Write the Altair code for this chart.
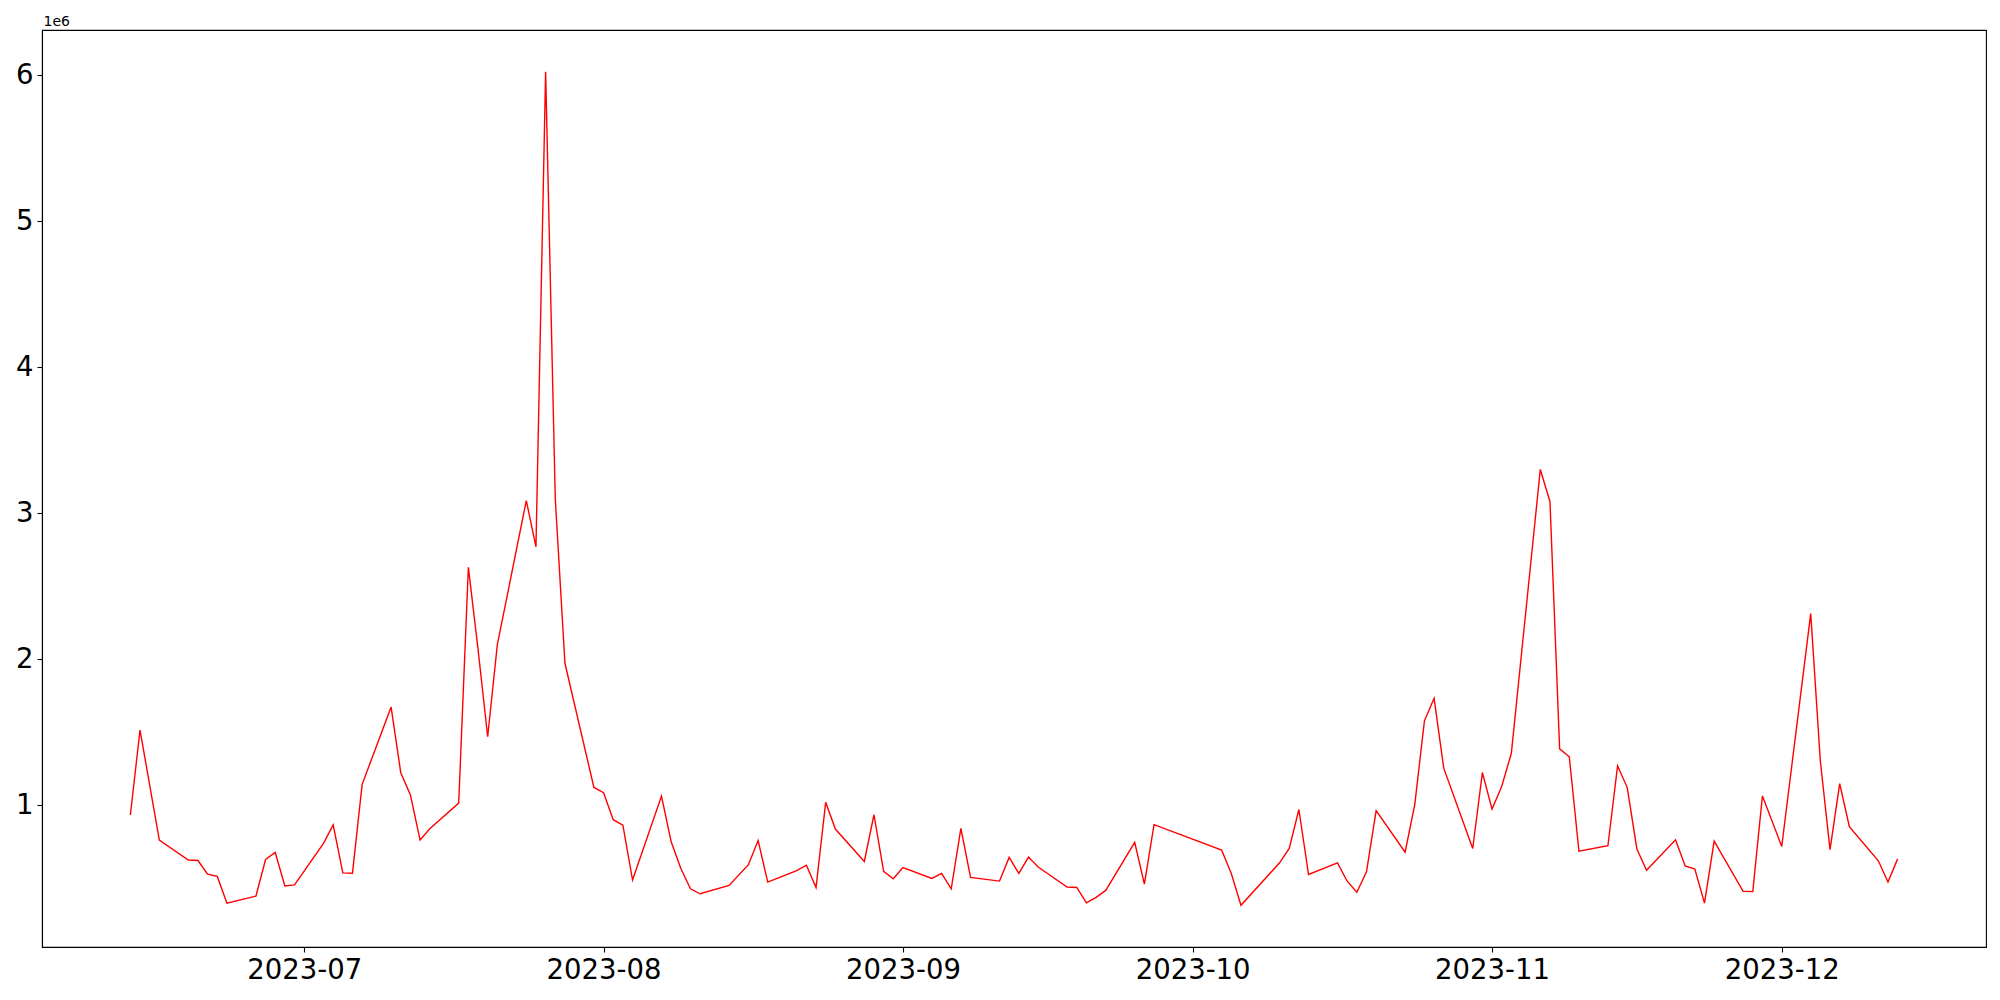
import altair as alt
import pandas as pd

DATES = [
    "2023-06-13", "2023-06-14", "2023-06-16", "2023-06-19", "2023-06-20", "2023-06-21",
    "2023-06-22", "2023-06-23", "2023-06-26", "2023-06-27", "2023-06-28", "2023-06-29",
    "2023-06-30", "2023-07-03", "2023-07-04", "2023-07-05", "2023-07-06", "2023-07-07",
    "2023-07-10", "2023-07-11", "2023-07-12", "2023-07-13", "2023-07-14", "2023-07-17",
    "2023-07-18", "2023-07-19", "2023-07-20", "2023-07-21", "2023-07-24", "2023-07-25",
    "2023-07-26", "2023-07-27", "2023-07-28", "2023-07-31", "2023-08-01", "2023-08-02",
    "2023-08-03", "2023-08-04", "2023-08-07", "2023-08-08", "2023-08-09", "2023-08-10",
    "2023-08-11", "2023-08-14", "2023-08-16", "2023-08-17", "2023-08-18", "2023-08-21",
    "2023-08-22", "2023-08-23", "2023-08-24", "2023-08-25", "2023-08-28", "2023-08-29",
    "2023-08-30", "2023-08-31", "2023-09-01", "2023-09-04", "2023-09-05", "2023-09-06",
    "2023-09-07", "2023-09-08", "2023-09-11", "2023-09-12", "2023-09-13", "2023-09-14",
    "2023-09-15", "2023-09-18", "2023-09-19", "2023-09-20", "2023-09-21", "2023-09-22",
    "2023-09-25", "2023-09-26", "2023-09-27", "2023-10-04", "2023-10-05", "2023-10-06",
    "2023-10-10", "2023-10-11", "2023-10-12", "2023-10-13", "2023-10-16", "2023-10-17",
    "2023-10-18", "2023-10-19", "2023-10-20", "2023-10-23", "2023-10-24", "2023-10-25",
    "2023-10-26", "2023-10-27", "2023-10-30", "2023-10-31", "2023-11-01", "2023-11-02",
    "2023-11-03", "2023-11-06", "2023-11-07", "2023-11-08", "2023-11-09", "2023-11-10",
    "2023-11-13", "2023-11-14", "2023-11-15", "2023-11-16", "2023-11-17", "2023-11-20",
    "2023-11-21", "2023-11-22", "2023-11-23", "2023-11-24", "2023-11-27", "2023-11-28",
    "2023-11-29", "2023-12-01", "2023-12-04", "2023-12-05", "2023-12-06", "2023-12-07",
    "2023-12-08", "2023-12-11", "2023-12-12", "2023-12-13",
]

VALUES_MILLIONS = [
    0.934, 1.516, 0.763, 0.626, 0.623, 0.530,
    0.514, 0.331, 0.379, 0.630, 0.678, 0.449,
    0.456, 0.740, 0.867, 0.538, 0.536, 1.144,
    1.673, 1.224, 1.071, 0.763, 0.840, 1.016,
    2.630, 2.070, 1.470, 2.100, 3.087, 2.770,
    6.023, 3.100, 1.973, 1.123, 1.087, 0.902,
    0.865, 0.489, 1.064, 0.751, 0.568, 0.429,
    0.395, 0.452, 0.594, 0.760, 0.475, 0.553,
    0.591, 0.438, 1.021, 0.838, 0.616, 0.936,
    0.548, 0.498, 0.575, 0.500, 0.534, 0.429,
    0.842, 0.507, 0.482, 0.644, 0.534, 0.646,
    0.578, 0.441, 0.438, 0.333, 0.370, 0.418,
    0.747, 0.461, 0.868, 0.694, 0.534, 0.316,
    0.607, 0.705, 0.972, 0.527, 0.607, 0.481,
    0.405, 0.545, 0.965, 0.680, 1.006, 1.579,
    1.733, 1.255, 0.705, 1.225, 0.975, 1.130,
    1.357, 3.300, 3.079, 1.387, 1.333, 0.686,
    0.724, 1.271, 1.122, 0.702, 0.556, 0.764,
    0.586, 0.564, 0.331, 0.756, 0.412, 0.410,
    1.065, 0.719, 2.313, 1.300, 0.697, 1.149,
    0.854, 0.621, 0.475, 0.634,
]

MONTH_TICKS = ["2023-07-01", "2023-08-01", "2023-09-01", "2023-10-01", "2023-11-01", "2023-12-01"]
Y_TICKS = [1, 2, 3, 4, 5, 6]
SCALE = 1e6

df = pd.DataFrame({"date": DATES, "value": [v * SCALE for v in VALUES_MILLIONS]})

# matplotlib-like 5% margins
ts = pd.to_datetime(df["date"], utc=True)
tmin, tmax = ts.min(), ts.max()
pad_t = (tmax - tmin) * 0.05
x_domain = [int((tmin - pad_t).value // 10**6), int((tmax + pad_t).value // 10**6)]
vmin, vmax = df["value"].min(), df["value"].max()
pad_v = (vmax - vmin) * 0.05
y_domain = [vmin - pad_v, vmax + pad_v]

tick_ms = [int(pd.Timestamp(d, tz="UTC").value // 10**6) for d in MONTH_TICKS]

chart = (
    alt.Chart(df)
    .mark_line(color="#ff0000", strokeWidth=1.4, clip=True)
    .encode(
        x=alt.X(
            "date:T",
            scale=alt.Scale(type="utc", domain=x_domain, nice=False),
            axis=alt.Axis(
                values=tick_ms,
                labelExpr="utcFormat(datum.value, '%Y-%m')",
                title=None,
                grid=False,
                labelFontSize=27.5,
                labelPadding=4,
                tickSize=5,
                labelFlush=False,
                labelOverlap=False,
            ),
        ),
        y=alt.Y(
            "value:Q",
            scale=alt.Scale(domain=y_domain, nice=False, zero=False),
            axis=alt.Axis(
                values=[v * SCALE for v in Y_TICKS],
                labelExpr="format(datum.value / 1000000, 'd')",
                title="1e6",
                titleAngle=0,
                titleAlign="left",
                titleBaseline="alphabetic",
                titleX=1,
                titleY=-5,
                titleFontSize=14,
                titleFontWeight="normal",
                grid=False,
                labelFontSize=27.5,
                labelPadding=4,
                tickSize=5,
                labelFlush=False,
                labelOverlap=False,
            ),
        ),
    )
    .properties(
        width=1944,
        height=917,
        autosize=alt.AutoSizeParams(type="none"),
        padding={"left": 34, "top": 22, "right": 6, "bottom": 45},
    )
    .configure(font="DejaVu Sans")
    .configure_axis(
        labelFont="DejaVu Sans",
        titleFont="DejaVu Sans",
        labelColor="black",
        titleColor="black",
        tickColor="black",
        domainColor="black",
        domainWidth=1.1,
        tickWidth=1.1,
    )
    .configure_view(stroke="black", strokeWidth=1.1)
)

chart.save("out.html", embed_options={"renderer": "svg", "actions": False})
